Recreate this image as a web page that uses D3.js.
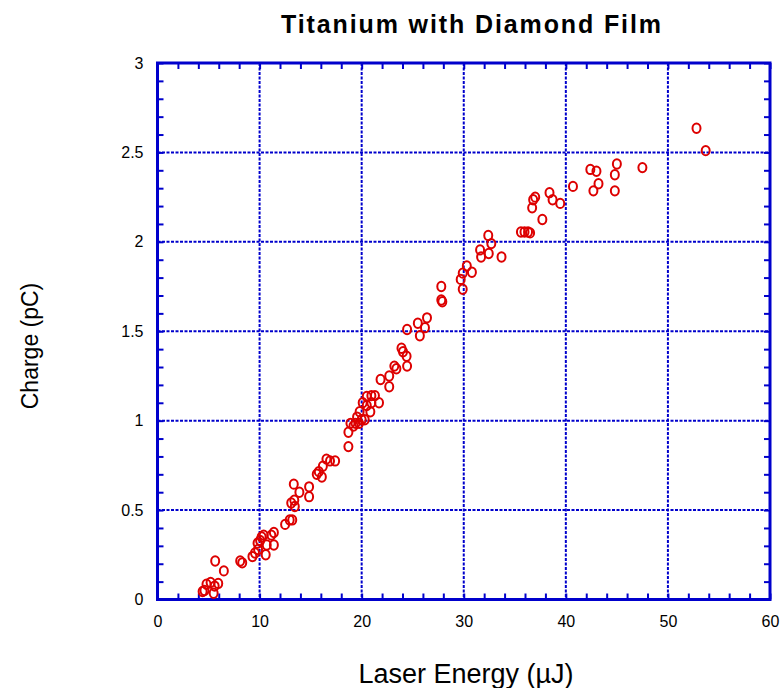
<!DOCTYPE html>
<html><head><meta charset="utf-8">
<script src="https://cdn.jsdelivr.net/npm/d3@7"></script>
<style>body{margin:0;background:#fff}svg{display:block}text{font-family:"Liberation Sans",Arial,sans-serif}</style>
</head><body>
<svg id="c" width="783" height="688"></svg>
<script>
const title = "Titanium with Diamond Film";
const xLabel = "Laser Energy (µJ)";
const yLabel = "Charge (pC)";
const xTicks = [0,10,20,30,40,50,60];
const yTicks = [0,0.5,1,1.5,2,2.5,3];
const yTickLabels = ["0","0.5","1","1.5","2","2.5","3"];
const energy = [4.42,4.8,5.2,5.6,5.95,5.5,4.6,5.65,6.5,8.1,8.3,9.3,9.55,9.85,9.8,10.05,10.2,10.6,10.7,10.4,11.15,11.4,11.4,12.5,12.95,13.2,13.1,13.4,13.45,13.35,13.9,14.85,14.85,15.6,15.8,16.1,16.2,16.55,16.9,17.4,18.7,18.7,18.9,19.2,19.4,19.75,19.55,20.0,20.3,19.8,20.1,20.5,20.95,21.3,20.5,20.85,21.7,20.95,21.85,22.7,22.7,23.2,23.4,23.9,24.05,24.4,24.45,24.45,25.5,25.7,26.2,26.4,27.8,27.8,27.9,29.7,29.9,29.9,30.3,30.8,31.6,31.7,32.45,33.7,32.4,32.7,35.6,35.95,36.3,36.5,36.7,36.8,37.0,37.7,38.4,38.7,39.45,40.7,42.4,43.0,42.7,43.2,44.8,45.0,44.8,47.5,52.8,53.7];
const charge = [0.045,0.085,0.095,0.075,0.09,0.035,0.05,0.215,0.16,0.215,0.205,0.24,0.26,0.28,0.315,0.33,0.35,0.25,0.305,0.36,0.36,0.375,0.305,0.42,0.445,0.445,0.54,0.555,0.52,0.645,0.6,0.575,0.63,0.70,0.715,0.685,0.745,0.785,0.775,0.775,0.855,0.935,0.985,0.97,0.985,0.985,1.02,1.005,1.005,1.05,1.10,1.135,1.14,1.14,1.085,1.05,1.10,1.10,1.23,1.25,1.19,1.305,1.29,1.405,1.385,1.36,1.305,1.51,1.545,1.475,1.52,1.575,1.75,1.675,1.665,1.79,1.735,1.825,1.865,1.83,1.955,1.915,1.935,1.915,2.035,1.99,2.055,2.055,2.055,2.05,2.19,2.235,2.25,2.125,2.275,2.235,2.215,2.31,2.405,2.395,2.285,2.325,2.375,2.435,2.285,2.415,2.635,2.51];

const svg = d3.select("#c");
const blue = "#0000cc", red = "#dd0000";
const x = d3.scaleLinear().domain([0,60]).range([157.5,770]);
const y = d3.scaleLinear().domain([0,3]).range([599.5,63]);
const [x0,x1] = x.range(), [y0,y1] = y.range();

// gridlines
const g = svg.append("g");
g.selectAll(".vg").data(xTicks.slice(1,-1)).join("line")
  .attr("x1",d=>x(d)).attr("x2",d=>x(d)).attr("y1",y1).attr("y2",y0)
  .attr("stroke",blue).attr("stroke-width",2).attr("stroke-dasharray","3,1.5");
g.selectAll(".hg").data(yTicks.slice(1,-1)).join("line")
  .attr("y1",d=>y(d)).attr("y2",d=>y(d)).attr("x1",x0).attr("x2",x1)
  .attr("stroke",blue).attr("stroke-width",2).attr("stroke-dasharray","3,1.5");

// inner ticks via axes
const xMinor = d3.range(0,61,2);
const yMinor = d3.range(0,31,1).map(d=>d/10);
function tickStyle(sel){ sel.select(".domain").remove(); sel.selectAll("line").attr("stroke",blue).attr("stroke-width",2); sel.selectAll("text").remove(); }
svg.append("g").attr("transform",`translate(0,${y0})`).call(d3.axisBottom(x).tickValues(xMinor).tickSize(-6)).call(tickStyle);
svg.append("g").attr("transform",`translate(0,${y1})`).call(d3.axisTop(x).tickValues(xMinor).tickSize(-6)).call(tickStyle);
svg.append("g").attr("transform",`translate(${x0},0)`).call(d3.axisLeft(y).tickValues(yMinor).tickSize(-6)).call(tickStyle);
svg.append("g").attr("transform",`translate(${x1},0)`).call(d3.axisRight(y).tickValues(yMinor).tickSize(-6)).call(tickStyle);

// frame
svg.append("rect").attr("x",x0).attr("y",y1).attr("width",x1-x0).attr("height",y0-y1)
  .attr("fill","none").attr("stroke",blue).attr("stroke-width",3);

// tick labels
const xa = svg.append("g").attr("transform",`translate(0,${y0})`)
  .call(d3.axisBottom(x).tickValues(xTicks).tickSize(0).tickPadding(16).tickFormat(d3.format("d")));
xa.select(".domain").remove();
xa.selectAll("text").attr("font-size",16).attr("fill","#000").attr("font-family","Liberation Sans, Arial");
const ya = svg.append("g").attr("transform",`translate(${x0},0)`)
  .call(d3.axisLeft(y).tickValues(yTicks).tickSize(0).tickPadding(14).tickFormat((d,i)=>yTickLabels[i]));
ya.select(".domain").remove();
ya.selectAll("text").attr("font-size",16).attr("fill","#000").attr("font-family","Liberation Sans, Arial");

// points
svg.append("g").selectAll("ellipse").data(energy.map((e,i)=>[e,charge[i]])).join("ellipse")
  .attr("cx",d=>x(d[0])).attr("cy",d=>y(d[1])).attr("rx",4).attr("ry",4.7)
  .attr("fill","none").attr("stroke",red).attr("stroke-width",2);

// titles
svg.append("text").attr("x",471).attr("y",33).attr("text-anchor","middle")
  .attr("font-size",25).attr("font-weight","bold").attr("textLength",380).attr("lengthAdjust","spacing").text(title);
svg.append("text").attr("x",466).attr("y",683).attr("text-anchor","middle")
  .attr("font-size",27).text(xLabel);
svg.append("text").attr("transform","translate(38,346) rotate(-90)").attr("text-anchor","middle")
  .attr("font-size",23).text(yLabel);
</script>
</body></html>
